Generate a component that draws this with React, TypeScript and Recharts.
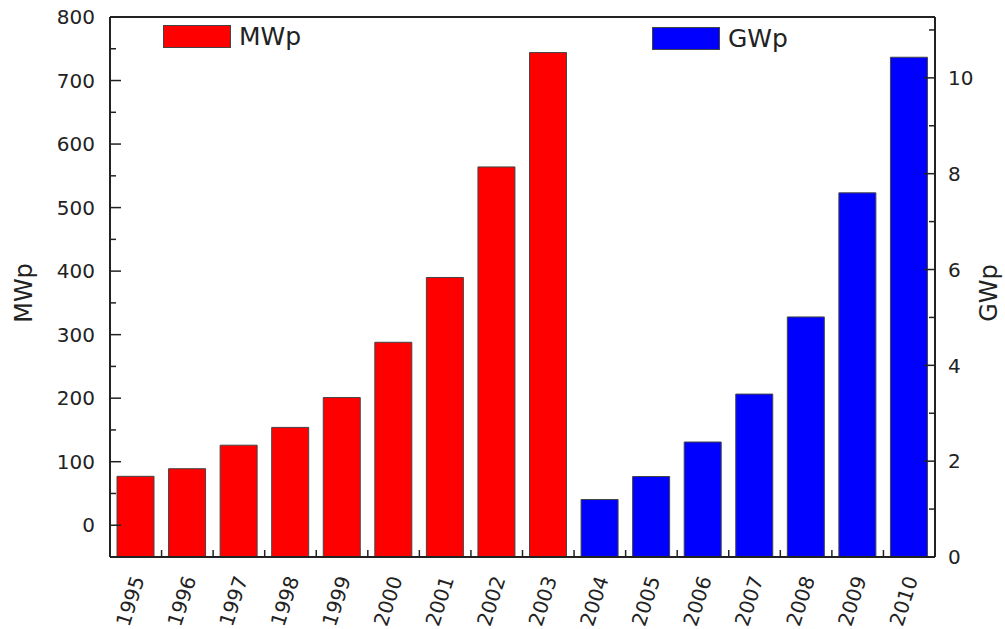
import { BarChart, Bar, XAxis, YAxis, Legend, ReferenceLine } from "recharts";

// installed PV capacity per year: MWp up to 2003, GWp from 2004
const YEARS = [
  "1995", "1996", "1997", "1998", "1999", "2000", "2001", "2002",
  "2003", "2004", "2005", "2006", "2007", "2008", "2009", "2010",
];
const MWP_YEARS = ["1995", "1996", "1997", "1998", "1999", "2000", "2001", "2002", "2003"];
const MWP_VALUES = [77, 89, 126, 154, 201, 288, 390, 564, 744];
const GWP_YEARS = ["2004", "2005", "2006", "2007", "2008", "2009", "2010"];
const GWP_VALUES = [1.2, 1.68, 2.4, 3.4, 5.01, 7.6, 10.43];

// left axis starts below zero; the red bars grow from the axis floor
const LEFT_DOMAIN = [-50, 800];
const RIGHT_DOMAIN = [0, 11.27];
const LEFT_TICKS = [0, 50, 100, 150, 200, 250, 300, 350, 400, 450, 500, 550, 600, 650, 700, 750, 800];
const RIGHT_TICKS = [0, 1, 2, 3, 4, 5, 6, 7, 8, 9, 10, 11];

const data = YEARS.map((year) => {
  const mi = MWP_YEARS.indexOf(year);
  const gi = GWP_YEARS.indexOf(year);
  return {
    year,
    mwp: mi >= 0 ? [LEFT_DOMAIN[0], MWP_VALUES[mi]] : null,
    gwp: gi >= 0 ? GWP_VALUES[gi] : null,
  };
});

const FONT = "'DejaVu Sans', 'Liberation Sans', Arial, sans-serif";
const INK = "#222";
const OUTLINE = "#444";
const BAND = 825 / YEARS.length;

function LeftTick(props: any) {
  const { x, y, payload } = props;
  const v = payload.value;
  const major = v % 100 === 0;
  return (
    <g>
      <line x1={x} x2={x + (major ? 11 : 6)} y1={y} y2={y} stroke={INK} strokeWidth={1.5} />
      {major && (
        <text x={x - 15} y={y} dy="0.36em" textAnchor="end" fontSize={20} fontFamily={FONT} fill={INK}>
          {v}
        </text>
      )}
    </g>
  );
}

function RightTick(props: any) {
  const { x, y, payload } = props;
  const v = payload.value;
  const major = v % 2 === 0;
  return (
    <g>
      <line x1={x} x2={x - (major ? 11 : 6)} y1={y} y2={y} stroke={INK} strokeWidth={1.5} />
      {major && (
        <text x={x + 13} y={y} dy="0.36em" textAnchor="start" fontSize={20} fontFamily={FONT} fill={INK}>
          {v}
        </text>
      )}
    </g>
  );
}

function YearTick(props: any) {
  const { x, y, payload, index } = props;
  const tx = x + 9;
  const ty = y + 22;
  return (
    <g>
      <line x1={x - BAND / 2} x2={x - BAND / 2} y1={y} y2={y - 7} stroke={INK} strokeWidth={1.5} />
      {index === YEARS.length - 1 && (
        <line x1={x + BAND / 2} x2={x + BAND / 2} y1={y} y2={y - 7} stroke={INK} strokeWidth={1.5} />
      )}
      <text
        x={tx}
        y={ty}
        textAnchor="end"
        fontSize={20}
        fontFamily={FONT}
        fill={INK}
        transform={`rotate(-72, ${tx}, ${ty})`}
      >
        {payload.value}
      </text>
    </g>
  );
}

function LegendBoxes() {
  const item = (left: number, top: number, color: string, label: string) => (
    <div style={{ position: "absolute", left, top, display: "flex", alignItems: "center" }}>
      <div style={{ width: 66, height: 21, background: color, border: `1px solid ${OUTLINE}` }} />
      <span style={{ marginLeft: 8, fontSize: 25, fontFamily: FONT, color: INK, lineHeight: "23px" }}>{label}</span>
    </div>
  );
  return (
    <div style={{ position: "relative", width: 1005, height: 60 }}>
      {item(163, 25, "#ff0000", "MWp")}
      {item(652, 27, "#0000ff", "GWp")}
    </div>
  );
}

export default function App() {
  return (
    <div style={{ position: "absolute", left: 0, top: 0, width: 1005, height: 629, background: "#fff" }}>
      <BarChart
        width={1005}
        height={629}
        data={data}
        margin={{ top: 17, right: 0, left: 0, bottom: 0 }}
        barSize={37}
        barGap={-37}
      >
        <XAxis
          dataKey="year"
          interval={0}
          height={72}
          tickSize={0}
          tickMargin={0}
          tickLine={false}
          axisLine={{ stroke: INK, strokeWidth: 2 }}
          tick={<YearTick />}
        />
        <YAxis
          yAxisId="left"
          orientation="left"
          width={110}
          domain={LEFT_DOMAIN}
          ticks={LEFT_TICKS}
          interval={0}
          tickSize={0}
          tickMargin={0}
          tickLine={false}
          axisLine={{ stroke: INK, strokeWidth: 2 }}
          tick={<LeftTick />}
          allowDataOverflow
          label={{ value: "MWp", angle: -90, position: "center", dx: -32, dy: 6, fontSize: 24, fontFamily: FONT, fill: INK }}
        />
        <YAxis
          yAxisId="right"
          orientation="right"
          width={70}
          domain={RIGHT_DOMAIN}
          ticks={RIGHT_TICKS}
          interval={0}
          tickSize={0}
          tickMargin={0}
          tickLine={false}
          axisLine={{ stroke: INK, strokeWidth: 2 }}
          tick={<RightTick />}
          allowDataOverflow
          label={{ value: "GWp", angle: -90, position: "center", dx: 18, dy: 6, fontSize: 24, fontFamily: FONT, fill: INK }}
        />
        <ReferenceLine yAxisId="left" y={800} stroke={INK} strokeWidth={2} />
        <Legend
          layout="horizontal"
          verticalAlign="middle"
          align="center"
          wrapperStyle={{ top: 0, left: 0, width: 1005, height: 60 }}
          content={() => <LegendBoxes />}
        />
        <Bar
          yAxisId="left"
          dataKey="mwp"
          name="MWp"
          fill="#ff0000"
          stroke={OUTLINE}
          strokeWidth={1}
          isAnimationActive={false}
        />
        <Bar
          yAxisId="right"
          dataKey="gwp"
          name="GWp"
          fill="#0000ff"
          stroke={OUTLINE}
          strokeWidth={1}
          isAnimationActive={false}
        />
      </BarChart>
    </div>
  );
}
